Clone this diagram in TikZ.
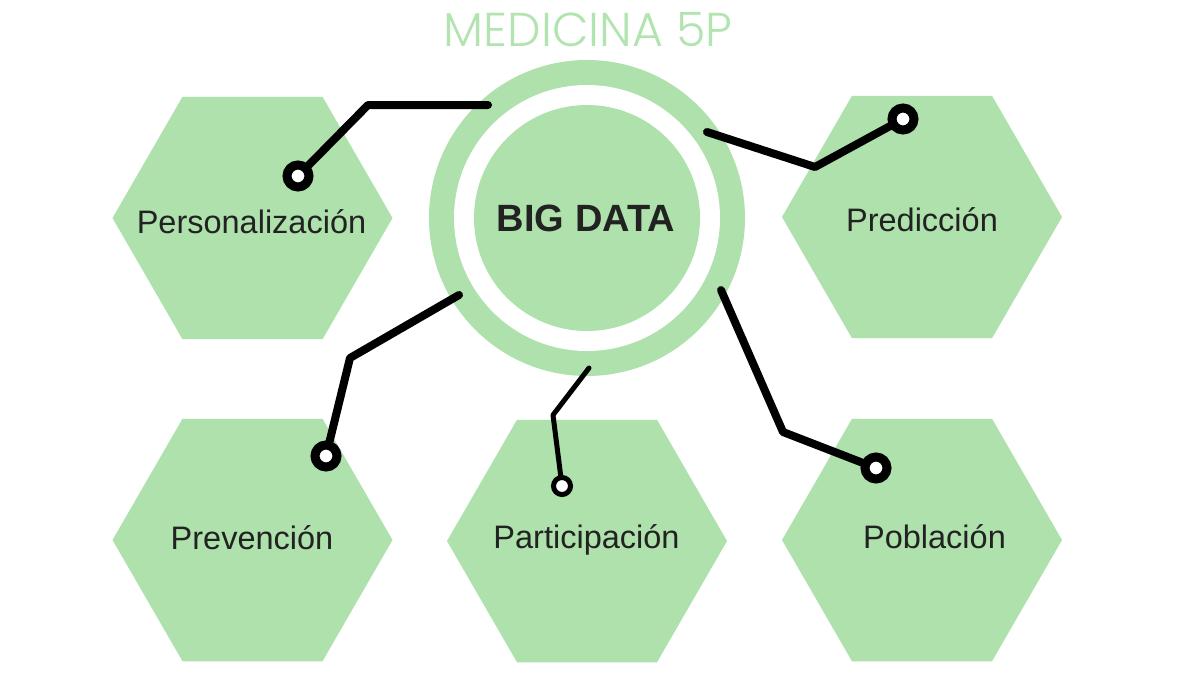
\documentclass[tikz,border=0pt]{standalone}
\usepackage{fontspec}
\setmainfont{Liberation Sans}
\newfontfamily\titlefont{Poppins Light}
\usetikzlibrary{shapes.geometric}
\definecolor{hexgreen}{RGB}{174,225,172}
\definecolor{titlegreen}{RGB}{178,228,176}
\definecolor{txt}{RGB}{34,34,34}
\begin{document}
\begin{tikzpicture}[x=1pt,y=-1pt,
 hexa/.style={regular polygon, regular polygon sides=6, minimum size=280pt, inner sep=0pt, outer sep=0pt, fill=hexgreen},
 lbl/.style={anchor=base, text=txt, font=\fontsize{32.5}{38}\selectfont, inner sep=0pt},
 wire/.style={line width=8pt, line cap=round, line join=round},
 thinwire/.style={line width=5pt, line cap=round, line join=round},
 dot/.style={circle, draw=black, fill=white, line width=9pt, minimum size=22pt, inner sep=0pt},
 smalldot/.style={circle, draw=black, fill=white, line width=5pt, minimum size=17pt, inner sep=0pt}]
\useasboundingbox (0,0) rectangle (1200,675);
\fill[white] (0,0) rectangle (1200,675);

% hexagons
\node[hexa] (h1) at (252.5,218) {};
\node[hexa] (h2) at (922,217) {};
\node[hexa] (h3) at (252.5,540) {};
\node[hexa] (h4) at (587,541) {};
\node[hexa] (h5) at (922,540) {};

% central circle
\node[circle, fill=hexgreen, minimum size=316pt, inner sep=0pt] (ring) at (587,218) {};
\node[circle, fill=white, minimum size=266pt, inner sep=0pt] (gap) at (587,218) {};
\node[circle, fill=hexgreen, minimum size=226pt, inner sep=0pt] (core) at (587,218) {};

% texts
\node[anchor=base, text=titlegreen, inner sep=0pt, font=\titlefont\fontsize{47.5}{54}\selectfont] (title) at (588,46) {MEDICINA 5P};
\node[anchor=base, text=txt, inner sep=0pt, font=\bfseries\fontsize{38}{44}\selectfont] (bigdata) at (586,231) {BIG DATA};
\node[lbl] (t1) at (251.5,233) {Personalización};
\node[lbl] (t2) at (922,231) {Predicción};
\node[lbl] (t3) at (252,549) {Prevención};
\node[lbl] (t4) at (586.5,548) {Participación};
\node[lbl] (t5) at (934.5,548) {Población};

% connector points
\coordinate (s1) at (488,105);  \coordinate (b1) at (368,105);  \coordinate (d1) at (298,176);
\coordinate (s2) at (707,132);  \coordinate (b2) at (815,167);  \coordinate (d2) at (903,119);
\coordinate (s3) at (459,295);  \coordinate (b3) at (350,358);  \coordinate (d3) at (326,456);
\coordinate (s4) at (589,368);  \coordinate (b4) at (553,415);  \coordinate (d4) at (562,486);
\coordinate (s5) at (721,290);  \coordinate (b5) at (783,432);  \coordinate (d5) at (876,468);

\draw[wire] (s1) -- (b1) -- (d1);
\draw[wire] (s2) -- (b2) -- (d2);
\draw[wire] (s3) -- (b3) -- (d3);
\draw[thinwire] (s4) -- (b4) -- (d4);
\draw[wire] (s5) -- (b5) -- (d5);

\node[dot] (p1) at (d1) {};
\node[dot] (p2) at (d2) {};
\node[dot] (p3) at (d3) {};
\node[smalldot] (p4) at (d4) {};
\node[dot] (p5) at (d5) {};
\end{tikzpicture}
\end{document}
